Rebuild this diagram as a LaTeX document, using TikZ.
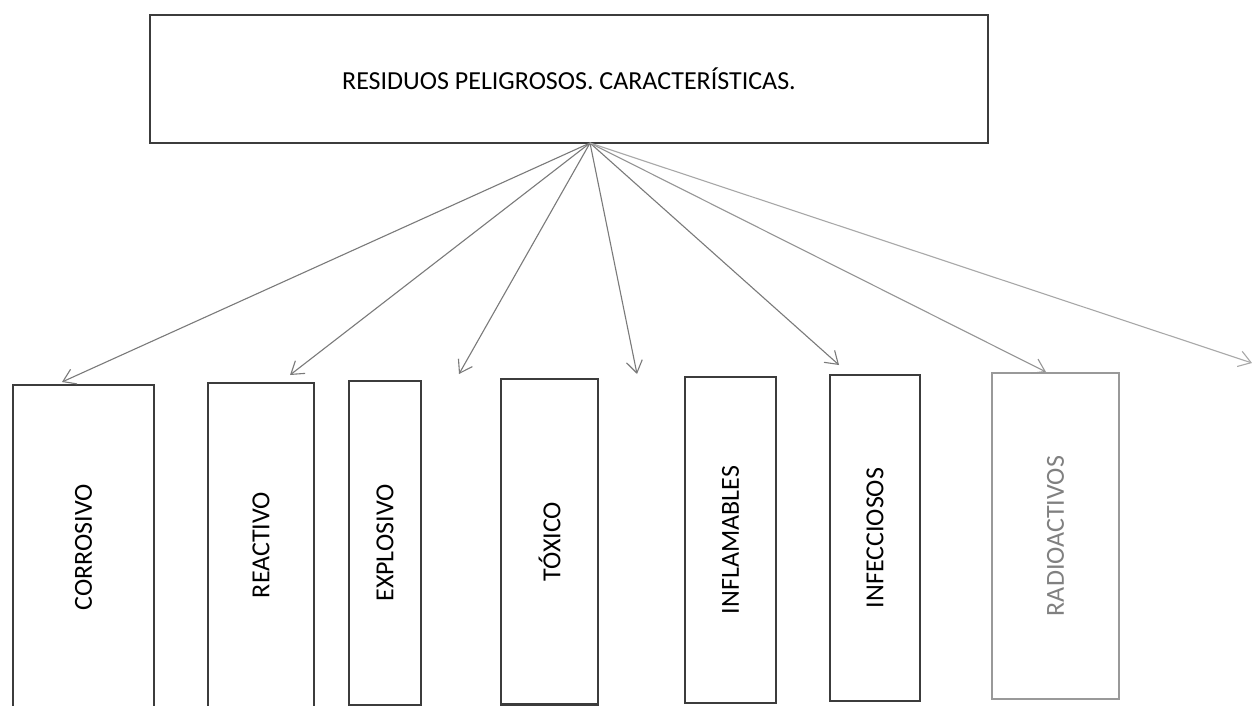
\documentclass[tikz,border=0pt]{standalone}
\usepackage{fontspec}
\setmainfont{Carlito}
\usetikzlibrary{arrows.meta}
\definecolor{boxline}{HTML}{3C3C3C}
\definecolor{arrowgray}{HTML}{7A7A7A}
\definecolor{lightarrow}{HTML}{A8A8A8}
\definecolor{radgray}{HTML}{808080}
\begin{document}
\begin{tikzpicture}[x=1pt,y=-1pt,
  titlebox/.style={draw=boxline, line width=1.6pt, minimum width=838pt, minimum height=128pt,
    inner sep=0pt, font=\fontsize{26}{30}\selectfont},
  catbox/.style={draw=boxline, line width=1.6pt, rotate=90, inner sep=0pt,
    font=\fontsize{26}{30}\selectfont},
  link/.style={draw=arrowgray, line width=1.1pt,
    -{Straight Barb[length=12pt,width=16pt,line width=1.1pt]}}
]
\useasboundingbox[fill=white] (0,0) rectangle (1252,706);

\node[titlebox] (title) at (569,79) {RESIDUOS PELIGROSOS. CARACTERÍSTICAS.};
\coordinate (hub) at (590,143);

% category boxes: minimum width = vertical extent, minimum height = horizontal extent (rotated)
\node[catbox, minimum width=324pt, minimum height=141pt] (corr) at (83.5,547) {CORROSIVO};
\node[catbox, minimum width=324pt, minimum height=106pt] (reac) at (261,545) {REACTIVO};
\node[catbox, minimum width=324pt, minimum height=72pt] (expl) at (385,543) {EXPLOSIVO};
\node[catbox, minimum width=325pt, minimum height=97pt] (toxi) at (549.5,541.5) {TÓXICO};
\node[catbox, minimum width=326pt, minimum height=91pt] (infl) at (730.5,540) {INFLAMABLES};
\node[catbox, minimum width=326pt, minimum height=90pt] (infe) at (875,538) {INFECCIOSOS};
\node[catbox, draw=radgray!80, text=radgray, minimum width=326pt, minimum height=127pt] (radi) at (1055.5,536) {RADIOACTIVOS};
% heavier bottom edge of the TÓXICO box
\draw[boxline, line width=2.8pt] (toxi.north west) -- (toxi.south west);

% arrow tips
\coordinate (t1) at (62,382);
\coordinate (t2) at (290,375);
\coordinate (t3) at (459,374);
\coordinate (t4) at (637,374);
\coordinate (t5) at (839,365);
\coordinate (t6) at (1046,372);
\coordinate (t7) at (1252,363);

\draw[link] (hub) -- (t1);
\draw[link] (hub) -- (t2);
\draw[link] (hub) -- (t3);
\draw[link] (hub) -- (t4);
\draw[link] (hub) -- (t5);
\draw[link, draw=arrowgray!80] (hub) -- (t6);
\draw[link, draw=lightarrow] (hub) -- (t7);
\end{tikzpicture}
\end{document}
